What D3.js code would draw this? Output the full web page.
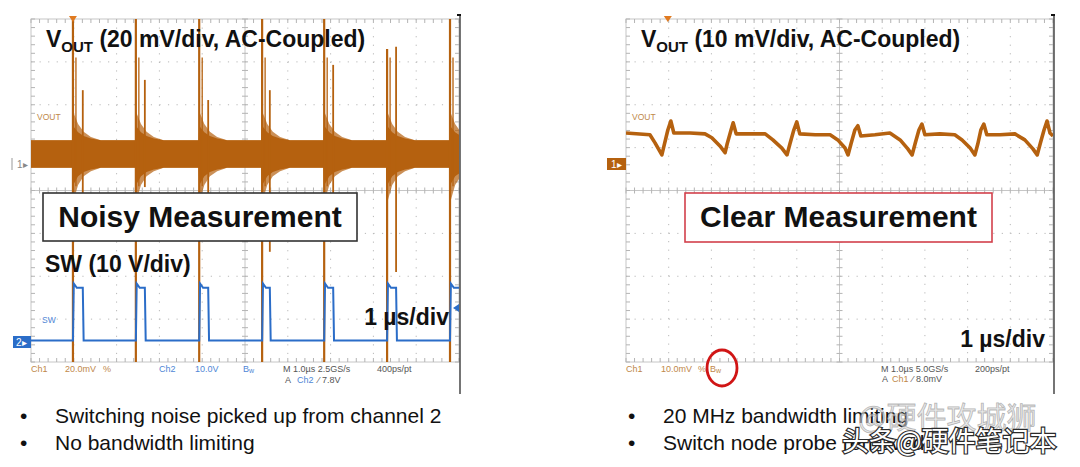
<!DOCTYPE html>
<html>
<head>
<meta charset="utf-8">
<script src="https://cdn.jsdelivr.net/npm/d3@7"></script>
<style>
  body { margin: 0; background: #fff; }
  svg { display: block; font-family: "Liberation Sans", Arial, sans-serif; }
</style>
</head>
<body>
<svg id="chart" width="1080" height="467"></svg>
<script>
// values: time in divisions (1 µs/div), level in divisions
const swRise = [0.98, 2.45, 3.93, 5.40, 6.85, 8.32, 9.79];
const swFall = [1.21, 2.66, 4.14, 5.58, 7.06, 8.53];
const swLevels = { low: -3.5, high: -2.27, overshoot: -2.17 };

const noisyCenter = 0.85;
const noisyHalf = 0.32;
// ringing envelope after every switching edge
const ringT  = [0, 0.04, 0.12, 0.25, 0.42, 0.65];
const ringUp = [1.0, 0.9, 0.7, 0.52, 0.4, 0.32];
const ringDn = [1.15, 1.0, 0.72, 0.52, 0.4, 0.32];
const riseSpikeTop = [4, 4, 4, 4, 4, 3.3, 4];
const riseSpikeBot = [-4, -4, -4, -4, -4, -4, -4];
const fallSpikeTop = [2.34, 2.58, 2.11, 2.34, 2.93, 3.35];
const fallSpikeBot = [-0.22, 0.08, -0.45, -1.43, -0.62, -1.9];

const clearT = [0, 0.56, 0.68, 0.84, 0.89, 0.98, 1.05, 1.12, 1.50, 1.85, 2.01, 2.20, 2.32, 2.37, 2.46, 2.51, 2.58,
  2.90, 3.26, 3.44, 3.65, 3.77, 3.84, 3.93, 4.00, 4.07, 4.43, 4.78, 4.96, 5.13, 5.20, 5.27, 5.36, 5.43, 5.50,
  5.83, 6.18, 6.42, 6.60, 6.70, 6.77, 6.86, 6.93, 7.00, 7.35, 7.70, 7.87, 8.06, 8.17, 8.24, 8.31, 8.38, 8.45,
  8.76, 9.11, 9.34, 9.53, 9.63, 9.70, 9.79, 9.86, 9.93, 10];
const clearV = [1.34, 1.30, 1.11, 0.83, 1.04, 1.41, 1.62, 1.34, 1.34, 1.32, 1.23, 1.04, 0.88, 1.09, 1.41, 1.58, 1.32,
  1.32, 1.32, 1.18, 0.99, 0.83, 1.09, 1.41, 1.60, 1.32, 1.30, 1.30, 1.18, 0.99, 0.83, 1.09, 1.41, 1.51, 1.27,
  1.30, 1.34, 1.18, 0.97, 0.83, 1.09, 1.41, 1.55, 1.30, 1.32, 1.30, 1.18, 0.99, 0.83, 1.09, 1.41, 1.55, 1.30,
  1.30, 1.32, 1.18, 0.97, 0.83, 1.09, 1.41, 1.62, 1.34, 1.27];

const leftInfo  = ["Ch1", "20.0mV", "%", "Ch2", "10.0V", "B", "M 1.0µs 2.5GS/s", "400ps/pt", "A", "Ch2", "⁄ 7.8V"];
const rightInfo = ["Ch1", "10.0mV", "%", "B", "M 1.0µs 5.0GS/s", "200ps/pt", "A", "Ch1", "⁄ 8.0mV"];
const leftBullets  = ["Switching noise picked up from channel 2", "No bandwidth limiting"];
const rightBullets = ["20 MHz bandwidth limiting", "Switch node probe removed"];

const ORANGE = "#b5610f", BLUE = "#2b6dc8";
const INFO_OR = "#c0884a", INFO_BL = "#4f86d6", INFO_GR = "#555";

const svg = d3.select("#chart");
svg.append("rect").attr("width", 1080).attr("height", 467).attr("fill", "#fff");

const makeScope = (id, x0, x1) => {
  const x = d3.scaleLinear().domain([0, 10]).range([x0, x1]);
  const y = d3.scaleLinear().domain([-4, 4]).range([362, 19]);
  const g = svg.append("g");

  g.append("clipPath").attr("id", id + "Clip")
    .append("rect").attr("x", x0).attr("y", 19).attr("width", x1 - x0).attr("height", 343);

  // dotted division lines
  const dots = "1.2 " + ((x1 - x0) / 50 - 1.2);
  d3.range(1, 10).filter(i => i !== 5).forEach(i => {
    g.append("line").attr("x1", x(i)).attr("x2", x(i)).attr("y1", 19).attr("y2", 362)
      .attr("stroke", "#b8b8b8").attr("stroke-dasharray", dots);
  });
  d3.range(-3, 4).filter(j => j !== 0).forEach(j => {
    g.append("line").attr("x1", x0).attr("x2", x1).attr("y1", y(j)).attr("y2", y(j))
      .attr("stroke", "#b8b8b8").attr("stroke-dasharray", dots);
  });
  g.append("rect").attr("x", x0).attr("y", 19).attr("width", x1 - x0).attr("height", 343)
    .attr("fill", "none").attr("stroke", "#c6c6c6");
  g.append("line").attr("x1", x(5)).attr("x2", x(5)).attr("y1", 19).attr("y2", 362).attr("stroke", "#c6c6c6");
  g.append("line").attr("x1", x0).attr("x2", x1).attr("y1", y(0)).attr("y2", y(0)).attr("stroke", "#c6c6c6");

  // minor ticks every 1/5 division
  const ticks = g.append("g").attr("stroke", "#b4b4b4");
  d3.range(0, 51).forEach(k => {
    const px = x(k / 5);
    ticks.append("line").attr("x1", px).attr("x2", px).attr("y1", 19).attr("y2", 23);
    ticks.append("line").attr("x1", px).attr("x2", px).attr("y1", 358).attr("y2", 362);
    ticks.append("line").attr("x1", px).attr("x2", px).attr("y1", y(0) - 3).attr("y2", y(0) + 3);
  });
  d3.range(0, 41).forEach(k => {
    const py = y(-4 + k / 5);
    ticks.append("line").attr("x1", x0).attr("x2", x0 + 4).attr("y1", py).attr("y2", py);
    ticks.append("line").attr("x1", x1 - 4).attr("x2", x1).attr("y1", py).attr("y2", py);
    ticks.append("line").attr("x1", x(5) - 3).attr("x2", x(5) + 3).attr("y1", py).attr("y2", py);
  });

  // right frame edge of the screenshot
  g.append("line").attr("x1", x1 + 1).attr("x2", x1 + 1).attr("y1", 15).attr("y2", 394)
    .attr("stroke", "#3a3a3a").attr("stroke-width", 1.4);
  g.append("line").attr("x1", x1 - 2).attr("x2", x1 + 2).attr("y1", 15).attr("y2", 15)
    .attr("stroke", "#111").attr("stroke-width", 2);

  const traces = g.append("g").attr("clip-path", `url(#${id}Clip)`);
  return { x, y, g, traces };
};

// ---------- left scope: noisy ----------
const L = makeScope("left", 31, 459);

const band = [[0, noisyHalf, noisyHalf]];
swRise.forEach(tr => {
  band.push([tr - 0.01, noisyHalf, noisyHalf]);
  ringT.forEach((dt, k) => band.push([tr + dt, ringUp[k], ringDn[k]]));
});
band.push([10.6, noisyHalf, noisyHalf]);

// sparse outer ringing, then the dense core of the noise
L.traces.append("path")
  .datum(band)
  .attr("fill", ORANGE).attr("fill-opacity", 0.7)
  .attr("d", d3.area()
    .x(d => L.x(d[0]))
    .y0(d => L.y(noisyCenter - d[2]))
    .y1(d => L.y(noisyCenter + d[1])));
L.traces.append("path")
  .datum(band)
  .attr("fill", ORANGE)
  .attr("d", d3.area()
    .x(d => L.x(d[0]))
    .y0(d => L.y(noisyCenter - (d[2] + noisyHalf) / 2))
    .y1(d => L.y(noisyCenter + (d[1] + noisyHalf) / 2)));

L.traces.selectAll(".rspike").data(swRise).enter().append("line")
  .attr("x1", d => L.x(d)).attr("x2", d => L.x(d))
  .attr("y1", (d, i) => L.y(riseSpikeTop[i])).attr("y2", (d, i) => L.y(riseSpikeBot[i]))
  .attr("stroke", ORANGE).attr("stroke-width", 2.2);
L.traces.selectAll(".rspike2").data(swRise).enter().append("line")
  .attr("x1", d => L.x(d + 0.07)).attr("x2", d => L.x(d + 0.07))
  .attr("y1", (d, i) => L.y(Math.min(riseSpikeTop[i], 3.1))).attr("y2", L.y(0.1))
  .attr("stroke", ORANGE).attr("stroke-width", 1.3);
L.traces.selectAll(".fspike").data(swFall).enter().append("line")
  .attr("x1", d => L.x(d)).attr("x2", d => L.x(d))
  .attr("y1", (d, i) => L.y(fallSpikeTop[i])).attr("y2", (d, i) => L.y(fallSpikeBot[i]))
  .attr("stroke", ORANGE).attr("stroke-width", 1.8);

const sw = [[0, swLevels.low]];
swRise.forEach((tr, i) => {
  sw.push([tr, swLevels.low], [tr + 0.02, swLevels.overshoot], [tr + 0.09, swLevels.high]);
  if (i < swFall.length) sw.push([swFall[i], swLevels.high], [swFall[i] + 0.02, swLevels.low]);
  else sw.push([10, swLevels.high]);
});
L.traces.append("path").datum(sw)
  .attr("fill", "none").attr("stroke", BLUE).attr("stroke-width", 2)
  .attr("d", d3.line().x(d => L.x(d[0])).y(d => L.y(d[1])));

// ---------- right scope: clear ----------
const R = makeScope("right", 626, 1053);
R.traces.append("path").datum(d3.zip(clearT, clearV))
  .attr("fill", "none").attr("stroke", ORANGE).attr("stroke-width", 3.6)
  .attr("stroke-linejoin", "round")
  .attr("d", d3.line().x(d => R.x(d[0])).y(d => R.y(d[1])));

// channel markers, trigger markers, trace names
const tri = (g, cx, cy, color, dir) => {
  const p = dir === "down" ? `M${cx - 4},${cy - 3}L${cx + 4},${cy - 3}L${cx},${cy + 3}Z`
                           : `M${cx},${cy}L${cx + 6},${cy - 4}L${cx + 6},${cy + 4}Z`;
  g.append("path").attr("d", p).attr("fill", color);
};
tri(svg, L.x(swRise[0]), 19, "#e07a20", "down");
tri(svg, R.x(0.98), 19, "#e07a20", "down");
tri(svg, 453, 308, BLUE, "left");

svg.append("line").attr("x1", 12).attr("x2", 12).attr("y1", 158).attr("y2", 170).attr("stroke", "#999");
svg.append("text").attr("x", 17).attr("y", 168).attr("font-size", 10).attr("fill", "#888").text("1▸");
svg.append("rect").attr("x", 13).attr("y", 336).attr("width", 18).attr("height", 12).attr("fill", BLUE);
svg.append("text").attr("x", 16).attr("y", 346).attr("font-size", 10).attr("fill", "#fff").text("2▸");
svg.append("rect").attr("x", 607).attr("y", 158).attr("width", 19).attr("height", 12).attr("fill", ORANGE);
svg.append("text").attr("x", 611).attr("y", 168).attr("font-size", 10).attr("fill", "#fff").text("1▸");

svg.append("text").attr("x", 37).attr("y", 120).attr("font-size", 8.5).attr("fill", INFO_OR).text("VOUT");
svg.append("text").attr("x", 632).attr("y", 120).attr("font-size", 8.5).attr("fill", INFO_OR).text("VOUT");
svg.append("text").attr("x", 42).attr("y", 323).attr("font-size", 8.5).attr("fill", INFO_BL).text("SW");

// scope readouts
const infoLine = (labels, xs, ys, colors) => {
  labels.forEach((t, i) => {
    const txt = svg.append("text").attr("x", xs[i]).attr("y", ys[i])
      .attr("font-size", 9).attr("fill", colors[i]).text(t);
    if (t === "B") txt.append("tspan").attr("font-size", 7).attr("dy", 1).text("w");
  });
};
infoLine(leftInfo,
  [31, 65, 103, 159, 195, 243, 283, 377, 285, 297, 318],
  [372, 372, 372, 372, 372, 372, 372, 372, 383, 383, 383],
  [INFO_OR, INFO_OR, INFO_OR, INFO_BL, INFO_BL, INFO_BL, INFO_GR, INFO_GR, INFO_GR, INFO_BL, INFO_GR]);
infoLine(rightInfo,
  [626, 661, 698, 710, 881, 975, 882, 892, 912],
  [372, 372, 372, 372, 372, 372, 382, 382, 382],
  [INFO_OR, INFO_OR, INFO_OR, INFO_OR, INFO_GR, INFO_GR, INFO_GR, INFO_OR, INFO_GR]);
svg.append("ellipse").attr("cx", 722).attr("cy", 368).attr("rx", 15).attr("ry", 18)
  .attr("fill", "none").attr("stroke", "#d01515").attr("stroke-width", 2.8);

// headings
const title = (x, scale) => {
  const t = svg.append("text").attr("x", x).attr("y", 47).attr("font-weight", "bold")
    .attr("font-size", 23).attr("fill", "#111");
  t.append("tspan").text("V");
  t.append("tspan").attr("font-size", 15).attr("dy", 5).text("OUT");
  t.append("tspan").attr("dy", -5).text(` (${scale}, AC-Coupled)`);
};
title(46, "20 mV/div");
title(641, "10 mV/div");

const box = (x, yTop, w, h, stroke, label) => {
  svg.append("rect").attr("x", x).attr("y", yTop).attr("width", w).attr("height", h)
    .attr("fill", "#fff").attr("stroke", stroke).attr("stroke-width", 1.6);
  svg.append("text").attr("x", x + w / 2).attr("y", yTop + 34).attr("text-anchor", "middle")
    .attr("font-weight", "bold").attr("font-size", 30).attr("fill", "#111").text(label);
};
box(43, 193, 314, 48, "#333", "Noisy Measurement");
box(685, 193, 307, 49, "#d2404b", "Clear Measurement");

svg.append("text").attr("x", 45).attr("y", 272).attr("font-weight", "bold").attr("font-size", 23)
  .attr("fill", "#111").text("SW (10 V/div)");
svg.append("text").attr("x", 449).attr("y", 325).attr("text-anchor", "end").attr("font-weight", "bold")
  .attr("font-size", 23).attr("fill", "#111").text("1 µs/div");
svg.append("text").attr("x", 1045).attr("y", 347).attr("text-anchor", "end").attr("font-weight", "bold")
  .attr("font-size", 23).attr("fill", "#111").text("1 µs/div");

// bullet notes
const bullets = (items, bx, tx) => {
  items.forEach((t, i) => {
    svg.append("text").attr("x", bx).attr("y", 423 + i * 27).attr("font-size", 21).attr("fill", "#111").text("•");
    svg.append("text").attr("x", tx).attr("y", 423 + i * 27).attr("font-size", 21).attr("fill", "#111").text(t);
  });
};
bullets(leftBullets, 20, 55);
bullets(rightBullets, 628, 663);

// watermark
svg.append("text").attr("x", 858).attr("y", 428).attr("font-family", "Noto Sans CJK SC").attr("font-size", 30)
  .attr("fill", "rgba(215,215,215,0.6)").attr("stroke", "rgba(120,120,120,0.5)").attr("stroke-width", 0.8)
  .text("@硬件攻城狮");
svg.append("text").attr("x", 842).attr("y", 451).attr("font-family", "Noto Sans CJK SC").attr("font-size", 27)
  .attr("fill", "#fff").attr("stroke", "#2a2a2a").attr("stroke-width", 2.4).attr("paint-order", "stroke")
  .text("头条@硬件笔记本");
</script>
</body>
</html>
